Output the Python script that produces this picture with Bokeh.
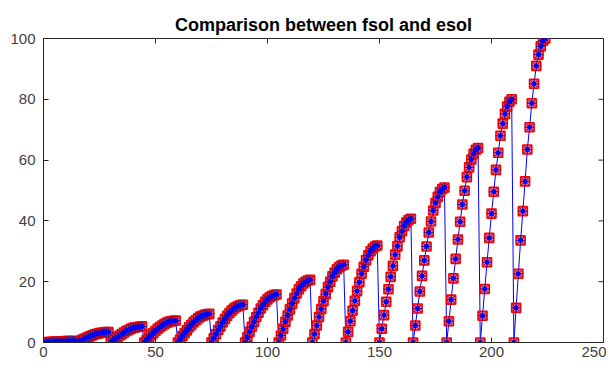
import math
from bokeh.plotting import figure
from bokeh.models import FixedTicker, Range1d
from bokeh.embed import file_html
from bokeh.resources import INLINE

# x positions (one per sample)
x = list(range(0, 225))

# fsol values, 15 segments of 15 samples each
seg01 = [0, 0.06, 0.11, 0.17, 0.22, 0.27, 0.31, 0.35, 0.39, 0.42, 0.45, 0.47, 0.49, 0.5, 0.5]
seg02 = [0, 0.4, 0.8, 1.1, 1.5, 1.8, 2.1, 2.4, 2.7, 2.9, 3.1, 3.2, 3.3, 3.4, 3.4]
seg03 = [0, 0.6, 1.2, 1.7, 2.3, 2.8, 3.3, 3.8, 4.1, 4.5, 4.8, 5.0, 5.1, 5.2, 5.3]
seg04 = [0, 0.8, 1.6, 2.4, 3.1, 3.8, 4.5, 5.1, 5.6, 6.1, 6.5, 6.8, 7.0, 7.1, 7.2]
seg05 = [0, 1.0, 2.1, 3.1, 4.0, 5.0, 5.8, 6.7, 7.3, 8.0, 8.5, 8.8, 9.1, 9.3, 9.4]
seg06 = [0, 1.4, 2.7, 4.1, 5.3, 6.6, 7.7, 8.8, 9.7, 10.5, 11.2, 11.7, 12.0, 12.3, 12.4]
seg07 = [0, 1.7, 3.5, 5.2, 6.8, 8.4, 9.8, 11.2, 12.3, 13.4, 14.2, 14.9, 15.3, 15.6, 15.8]
seg08 = [0, 2.3, 4.5, 6.8, 8.9, 10.9, 12.8, 14.6, 16.1, 17.5, 18.5, 19.4, 20.0, 20.4, 20.6]
seg09 = [0, 2.8, 5.6, 8.4, 11.0, 13.6, 15.9, 18.2, 20.0, 21.8, 23.0, 24.1, 24.8, 25.3, 25.6]
seg10 = [0, 3.5, 7.0, 10.5, 13.7, 16.9, 19.8, 22.6, 24.9, 27.1, 28.7, 30.0, 30.9, 31.6, 31.9]
seg11 = [0, 4.5, 9.0, 13.4, 17.5, 21.6, 25.2, 28.9, 31.7, 34.6, 36.6, 38.3, 39.5, 40.3, 40.7]
seg12 = [0, 5.6, 11.2, 16.8, 21.9, 27.0, 31.6, 36.2, 39.8, 43.4, 45.9, 47.9, 49.5, 50.5, 51.0]
seg13 = [0, 7.0, 14.1, 21.1, 27.5, 33.9, 39.7, 45.4, 49.9, 54.4, 57.6, 60.2, 62.1, 63.4, 64.0]
seg14 = [0, 8.8, 17.6, 26.4, 34.4, 42.4, 49.6, 56.8, 62.4, 68.0, 72.0, 75.2, 77.6, 79.2, 80.0]
seg15 = [0, 11.4, 22.6, 33.6, 43.2, 53.0, 63.5, 70.8, 78.7, 85.1, 91.0, 94.7, 97.4, 99.3, 100.0]

fsol = (seg01 + seg02 + seg03 + seg04 + seg05 + seg06 + seg07 + seg08 +
        seg09 + seg10 + seg11 + seg12 + seg13 + seg14 + seg15)
esol = list(fsol)  # the two solutions overlap in the picture

x_ticks = [0, 50, 100, 150, 200, 250]
y_ticks = [0, 20, 40, 60, 80, 100]
x_min, x_max = 0, 250
y_min, y_max = 0, 100

AX = "#262626"
FONT = "Liberation Sans"

p = figure(width=606, height=365, output_backend="svg", toolbar_location=None,
           x_range=Range1d(x_min, x_max), y_range=Range1d(y_min, y_max),
           min_border_left=43, min_border_right=3, min_border_top=38, min_border_bottom=23,
           title="Comparison between fsol and esol")

p.title.text_font = FONT
p.title.text_font_style = "bold"
p.title.text_font_size = "18px"
p.title.text_color = "#000000"
p.title.align = "center"
p.title.vertical_align = "top"
p.title.standoff = 4

p.grid.visible = False
p.outline_line_color = AX
p.outline_line_width = 1
p.background_fill_color = "white"
p.border_fill_color = "white"

for ax, ticks in ((p.xaxis[0], x_ticks), (p.yaxis[0], y_ticks)):
    ax.ticker = FixedTicker(ticks=ticks)
    ax.major_tick_in = 5
    ax.major_tick_out = 0
    ax.minor_tick_line_color = None
    ax.axis_line_color = AX
    ax.major_tick_line_color = AX
    ax.major_label_text_font = FONT
    ax.major_label_text_font_size = "15px"
    ax.major_label_text_color = "#404040"
p.xaxis.major_label_standoff = 4
p.yaxis.major_label_standoff = 8

# inward ticks on the top and right edges of the box
p.ray(x=x_ticks, y=[y_max] * len(x_ticks), length=5, length_units="screen",
      angle=-math.pi / 2, line_color=AX, line_width=1)
p.ray(x=[x_max] * len(y_ticks), y=y_ticks, length=5, length_units="screen",
      angle=math.pi, line_color=AX, line_width=1)

# fsol: blue line with markers; esol: red squares
p.line(x, fsol, line_color="#0000ff", line_width=1)
p.scatter(x, esol, marker="square", size=9, line_color="#ff0000", line_width=1.6,
          fill_color="#ff3050", fill_alpha=0.7)
p.scatter(x, fsol, marker="asterisk", size=10, line_color="#301a80", line_width=1)
p.scatter(x, fsol, marker="circle", size=4, line_color="#0000ff", fill_color="#0000ff")

open("out.html", "w").write(file_html(p, INLINE))
